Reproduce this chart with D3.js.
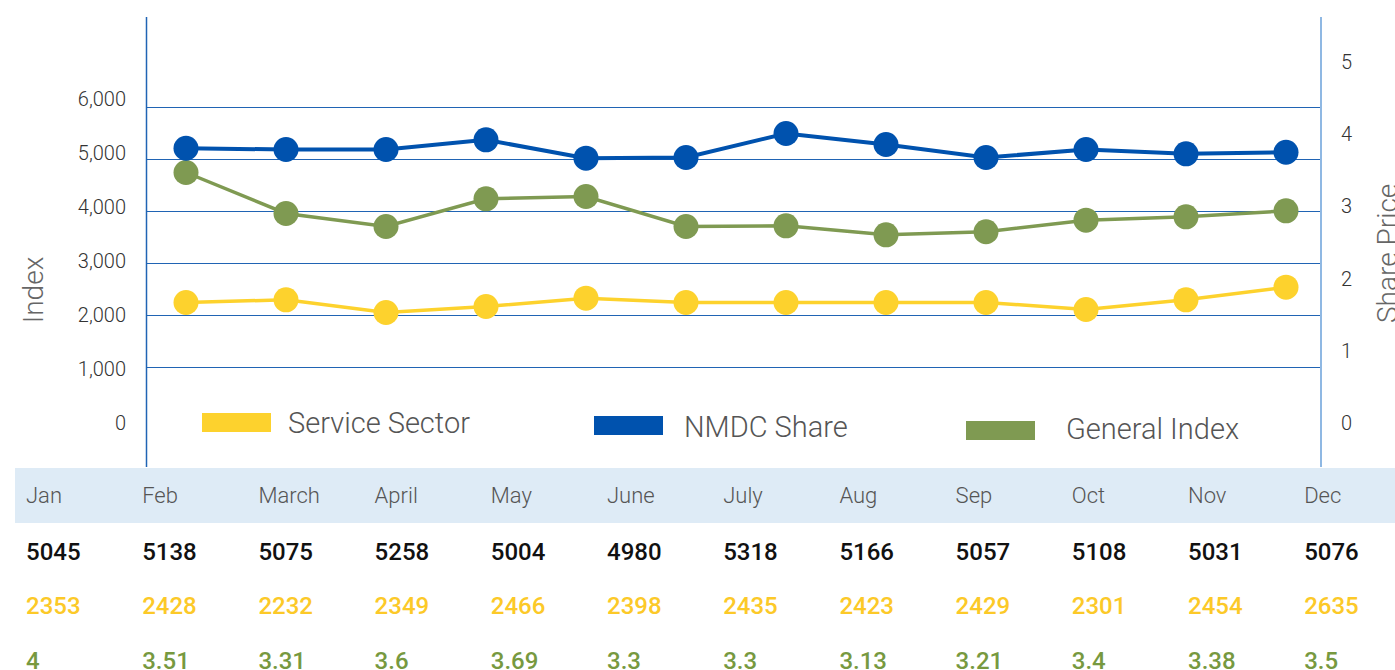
<!DOCTYPE html>
<html>
<head>
<meta charset="utf-8">
<script src="https://cdn.jsdelivr.net/npm/d3@7"></script>
<style>
  body { margin: 0; background: #fff; }
  svg { display: block; }
  text { font-family: Roboto, "Liberation Sans", sans-serif; }
</style>
</head>
<body>
<div id="chart-area"></div>
<script>
// months + series
var months = ['Jan','Feb','March','April','May','June','July','Aug','Sep','Oct','Nov','Dec'];
var nmdc    = [5217,5192,5192,5379,5025,5038,5500,5288,5038,5192,5109,5140];
var general = [4750,3962,3712,4244,4288,3712,3725,3552,3610,3833,3898,4013];
var service = [2250,2302,2058,2173,2333,2250,2250,2250,2250,2115,2302,2544];

// table rows under the chart
var rowBlack  = ['5045','5138','5075','5258','5004','4980','5318','5166','5057','5108','5031','5076'];
var rowYellow = ['2353','2428','2232','2349','2466','2398','2435','2423','2429','2301','2454','2635'];
var rowGreen  = ['4','3.51','3.31','3.6','3.69','3.3','3.3','3.13','3.21','3.4','3.38','3.5'];

var leftTicks = [0,1000,2000,3000,4000,5000,6000];
var rightTicks = [0,1,2,3,4,5];
var gridTicks = [1000,2000,3000,4000,5000,6000];

var legendNames = ['Service Sector','NMDC Share','General Index'];

var def = {
    width: 1395,
    height: 670,
    left: 147,
    right: 1321,
    top: 17,
    bottom: 467,
    blue: '#0052ae',
    green: '#7f9a52',
    yellow: '#fdd22d',
    grid: '#2064b4'
};

var svg = d3.select('#chart-area').append('svg')
    .attr('width', def.width)
    .attr('height', def.height);

// scales
var x = d3.scalePoint().domain(months).range([186, 1286]);
var y = d3.scaleLinear().domain([0, 6000]).range([419.5, 107.5]);
var yLab = d3.scaleLinear().domain([0, 6000]).range([423, 99]);   // labels sit a bit off the grid
var yRight = d3.scaleLinear().domain([0, 5]).range([423, 62]);
var col = d3.scaleBand().domain(months).range([26, 26 + 116.2 * 12]);

// gridlines
svg.append('g').selectAll('line')
    .data(gridTicks)
    .enter().append('line')
    .attr('x1', def.left).attr('x2', def.right)
    .attr('y1', d => y(d)).attr('y2', d => y(d))
    .attr('stroke', def.grid)
    .attr('stroke-width', 1)
    .attr('shape-rendering', 'crispEdges');

// axis lines
svg.append('line')
    .attr('x1', def.left - 0.5).attr('x2', def.left - 0.5)
    .attr('y1', def.top).attr('y2', def.bottom)
    .attr('stroke', def.grid).attr('stroke-width', 1.5);
svg.append('line')
    .attr('x1', def.right).attr('x2', def.right)
    .attr('y1', def.top).attr('y2', def.bottom)
    .attr('stroke', '#8fb8e3').attr('stroke-width', 2);

// left tick labels
var yAx = d3.axisLeft(yLab).tickValues(leftTicks).tickSize(0).tickPadding(0)
    .tickFormat(d3.format(','));
var yUnit = svg.append('g').attr('transform', 'translate(126,0)').call(yAx);
yUnit.select('.domain').remove();
yUnit.selectAll('text')
    .attr('font-size', '20px')
    .attr('fill', '#333')
    .attr('font-family', 'Roboto, sans-serif')
    .attr('font-weight', 300);

// right tick labels
var yAxR = d3.axisRight(yRight).tickValues(rightTicks).tickSize(0).tickPadding(0)
    .tickFormat(d3.format('d'));
var yUnitR = svg.append('g').attr('transform', 'translate(1341,0)').call(yAxR);
yUnitR.select('.domain').remove();
yUnitR.selectAll('text')
    .attr('font-size', '20px')
    .attr('fill', '#333')
    .attr('font-family', 'Roboto, sans-serif')
    .attr('font-weight', 300);

// axis titles
svg.append('text')
    .attr('transform', 'translate(43,290) rotate(-90)')
    .attr('text-anchor', 'middle')
    .attr('font-size', '28px')
    .attr('font-weight', 300)
    .attr('fill', '#666')
    .text('Index');
svg.append('text')
    .attr('transform', 'translate(1397,323) rotate(-90)')
    .attr('text-anchor', 'start')
    .attr('font-size', '28px')
    .attr('font-weight', 300)
    .attr('fill', '#666')
    .text('Share Price');

// lines + dots
var series = [
    {name: 'service', vals: service, color: def.yellow, w: 3.5},
    {name: 'general', vals: general, color: def.green, w: 3.5},
    {name: 'nmdc', vals: nmdc, color: def.blue, w: 4}
];
var line = d3.line()
    .x((d, i) => x(months[i]))
    .y(d => y(d));

series.forEach(function(s) {
    svg.append('path')
        .datum(s.vals)
        .attr('d', line)
        .attr('fill', 'none')
        .attr('stroke', s.color)
        .attr('stroke-width', s.w);
    svg.append('g').selectAll('circle')
        .data(s.vals)
        .enter().append('circle')
        .attr('cx', (d, i) => x(months[i]))
        .attr('cy', d => y(d))
        .attr('r', 12.5)
        .attr('fill', s.color);
});

// legend
var legPos = [
    {sx: 202, sy: 413, tx: 288, ty: 433, c: def.yellow},
    {sx: 594, sy: 416, tx: 684, ty: 437, c: def.blue},
    {sx: 966, sy: 421, tx: 1066, ty: 439, c: def.green}
];
legendNames.forEach(function(n, i) {
    var p = legPos[i];
    svg.append('rect')
        .attr('x', p.sx).attr('y', p.sy)
        .attr('width', 69).attr('height', 19)
        .attr('fill', p.c);
    svg.append('text')
        .attr('x', p.tx).attr('y', p.ty)
        .attr('font-size', '29px')
        .attr('font-weight', 300)
        .attr('fill', '#555')
        .text(n);
});

// table header band
svg.append('rect')
    .attr('x', 15).attr('y', 468)
    .attr('width', def.width - 15).attr('height', 55)
    .attr('fill', '#deebf6');

svg.append('g').selectAll('text')
    .data(months)
    .enter().append('text')
    .attr('x', d => col(d))
    .attr('y', 503)
    .attr('font-size', '22px')
    .attr('font-weight', 300)
    .attr('fill', '#555')
    .text(d => d);

// table rows
var rows = [
    {vals: rowBlack, color: '#111', y: 560},
    {vals: rowYellow, color: '#fcc928', y: 614},
    {vals: rowGreen, color: '#77993f', y: 669}
];
rows.forEach(function(r) {
    svg.append('g').selectAll('text')
        .data(r.vals)
        .enter().append('text')
        .attr('x', (d, i) => col(months[i]))
        .attr('y', r.y)
        .attr('font-size', '24px')
        .attr('font-weight', 500)
        .attr('fill', r.color)
        .text(d => d);
});
</script>
</body>
</html>
